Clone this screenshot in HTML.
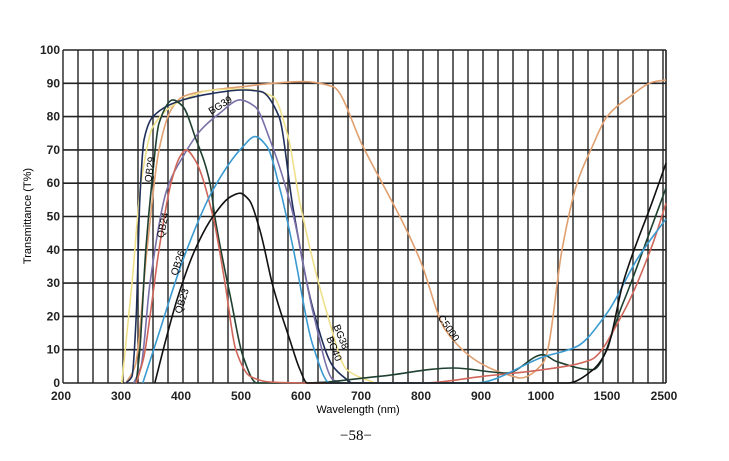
<!DOCTYPE html>
<html><head><meta charset="utf-8"><style>
body{margin:0;background:#fff;width:729px;height:461px;overflow:hidden}
svg{display:block}
text{font-family:"Liberation Sans",sans-serif}
</style></head><body>
<svg id="chart" width="729" height="461" viewBox="0 0 729 461">
<g id="grid"></g>
<g id="series"></g>
<g id="labels"></g>
<text x="0" y="0" font-size="11" text-anchor="middle" transform="translate(31,216) rotate(-90)">Transmittance (T%)</text>
<text x="358" y="413" font-size="11" text-anchor="middle">Wavelength (nm)</text>
<text x="356" y="440" font-size="15" text-anchor="middle" style="font-family:'Liberation Serif',serif">−58−</text>
<text font-size="10" text-anchor="middle" transform="translate(153,170) rotate(-82)">QB29</text>
<text font-size="10" text-anchor="middle" transform="translate(166,226) rotate(-78)">QB24</text>
<text font-size="10" text-anchor="middle" transform="translate(181,264) rotate(-72)">QB26</text>
<text font-size="10" text-anchor="middle" transform="translate(185,302) rotate(-72)">QB23</text>
<text font-size="10" text-anchor="middle" transform="translate(222,108) rotate(-32)">BG39</text>
<text font-size="10" text-anchor="middle" transform="translate(338,338) rotate(68)">BG38</text>
<text font-size="10" text-anchor="middle" transform="translate(331,350) rotate(68)">BG40</text>
<text font-size="10" text-anchor="middle" transform="translate(446,330) rotate(55)">C5000</text>
</svg>
<script>
const yTicks=[0,10,20,30,40,50,60,70,80,90,100];
const xTicks=[200,300,400,500,600,700,800,900,1000,1500,2500];
const bgA_nm=[305,315,322,328,335,350,400,450,500,530,560,583,617,650,680];
const bgA_t=[0,2,20,55,73,80,85,87,88,87.5,80,53,22,5,0];
const bg38_nm=[298,315,330,350,400,450,500,550,575,595,640,673,720];
const bg38_t=[0,30,60,77,85,88,88.3,86,74,54,21,4,0];
const bg39_nm=[318,330,345,373,400,430,461,495,520,545,583,617,650,662];
const bg39_t=[0,5,30,58,68,76,81,85,83,73,51,21,1,0];
const qb29_nm=[322,328,338,348,360,383,400,420,445,453,480,500,523,600,728,850,940,1000,1100,1379,1746,2272,2500];
const qb29_t=[0,10,40,60,78,85,83,74,60,50,25,8,0,0,2,4.5,3,8.5,6.5,4,24,48,58.6];
const qb24_nm=[322,335,345,360,380,395,405,420,450,470,488,512,545,620,800,900,1000,1364,1746,2272,2500];
const qb24_t=[0,8,20,40,60,68,70,67,50,30,10,2,0.3,0,0,2,4,7,21,42,54];
const qb26_nm=[333,360,400,450,500,520,540,562,583,617,645,887,1000,1258,1485,2009,2500];
const qb26_t=[0,15,37,58,71,74,71,58,41,11,0,0,7.8,11,21,37.6,49.3];
const qb23_nm=[353,370,390,420,450,480,495,510,528,550,578,595,607,1189,1379,1485,1746,2272,2500];
const qb23_t=[0,12,25,40,50,56,57,55,46,29,13,4,0,0,4,10,30,55,66];
const c5000_nm=[305,320,340,360,380,400,450,500,550,600,650,700,795,837,900,950,962,1000,1030,1144,1258,1371,1485,1868,2272,2500];
const c5000_t=[0,5,40,70,82,86,88,89,90,90.5,89,71,37,16,5.5,2,1.5,6,9,40,60,70.8,80,86,90.4,91];
const seriesList=[
 ['c5000',c5000_nm,c5000_t,'#e0a070'],
 ['bg38',bg38_nm,bg38_t,'#efe08a'],
 ['bg40',bgA_nm,bgA_t,'#1f2f5a'],
 ['bg39',bg39_nm,bg39_t,'#7a70a8'],
 ['qb29',qb29_nm,qb29_t,'#1f4030'],
 ['qb24',qb24_nm,qb24_t,'#d0665a'],
 ['qb26',qb26_nm,qb26_t,'#3a9ad0'],
 ['qb23',qb23_nm,qb23_t,'#111111']];
const L=63,R=666,T=50,B=383;
function xs(nm){
 if(nm<=1000) return L+(nm-200)/100*60;
 if(nm<=1500) return 543+(nm-1000)/500*66;
 return 609+(nm-1500)/1000*57;
}
function ys(t){return B-(t/100)*(B-T);}
const NS='http://www.w3.org/2000/svg';
const grid=document.getElementById('grid'),ser=document.getElementById('series'),lab=document.getElementById('labels');
function mk(tag,attrs,parent){const e=document.createElementNS(NS,tag);for(const k in attrs)e.setAttribute(k,attrs[k]);parent.appendChild(e);return e;}
for(let x=L;x<=R-2;x+=15){
 const l=mk('line',{x1:x,x2:x,y1:T,y2:B,stroke:'#222','stroke-width':1.4},grid);
 
 
}
const rb=mk('line',{x1:R,x2:R,y1:T,y2:B,stroke:'#222','stroke-width':1.6},grid);


yTicks.forEach(v=>{
 const l=mk('line',{x1:L,x2:R,y1:ys(v),y2:ys(v),stroke:'#222','stroke-width':1.6},grid);
 
 
 const t=mk('text',{x:L-3,y:ys(v)+4,'font-size':12,'font-weight':'bold','text-anchor':'end',fill:'#222'},lab);
 t.textContent=v;
 
 
});
xTicks.forEach(v=>{
 const t=mk('text',{x:xs(v)-2,y:400,'font-size':12,'font-weight':'bold','text-anchor':'middle',fill:'#222'},lab);
 t.textContent=v;
 
 
});
function pathFor(nm,tv){
 const X=nm.map(xs),Y=tv.map(ys),n=X.length;
 const d=[],m=new Array(n);
 for(let i=0;i<n-1;i++)d.push((Y[i+1]-Y[i])/(X[i+1]-X[i]));
 m[0]=d[0];m[n-1]=d[n-2];
 for(let i=1;i<n-1;i++){
  if(d[i-1]*d[i]<=0)m[i]=0;
  else{const w1=2*(X[i+1]-X[i])+(X[i]-X[i-1]),w2=(X[i+1]-X[i])+2*(X[i]-X[i-1]);m[i]=(w1+w2)/(w1/d[i-1]+w2/d[i]);}
 }
 let s='M'+X[0].toFixed(1)+','+Y[0].toFixed(1);
 for(let i=0;i<n-1;i++){
  const h=X[i+1]-X[i];
  s+='C'+(X[i]+h/3).toFixed(1)+','+(Y[i]+m[i]*h/3).toFixed(1)+' '+(X[i+1]-h/3).toFixed(1)+','+(Y[i+1]-m[i+1]*h/3).toFixed(1)+' '+X[i+1].toFixed(1)+','+Y[i+1].toFixed(1);
 }
 return s;
}
seriesList.forEach(s=>{
 const pth=mk('path',{d:pathFor(s[1],s[2]),fill:'none',stroke:s[3],'stroke-width':1.6},ser);
 
 
});
</script>
</body></html>
